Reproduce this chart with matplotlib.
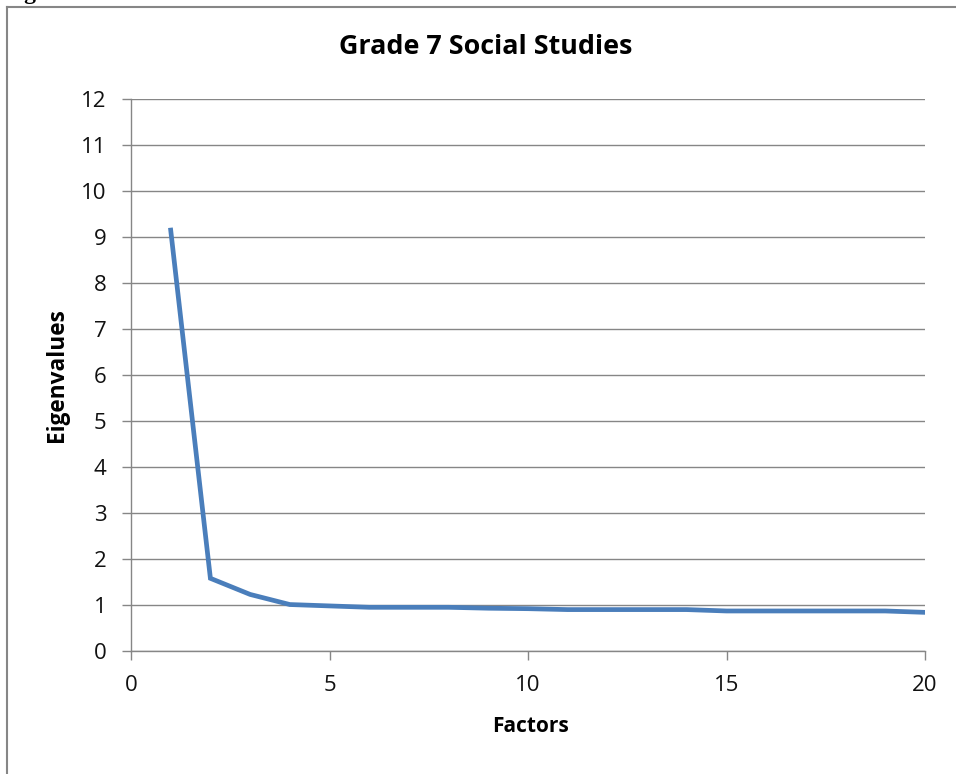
import matplotlib
matplotlib.use("Agg")
import matplotlib.pyplot as plt
from matplotlib.lines import Line2D

# scree plot values
factors = list(range(1, 21))
eigenvalues = [9.15, 1.58, 1.23, 1.01, 0.98, 0.95, 0.95, 0.95, 0.93, 0.92,
               0.90, 0.90, 0.90, 0.90, 0.87, 0.87, 0.87, 0.87, 0.87, 0.84]
x_ticks = [0, 5, 10, 15, 20]
y_ticks = list(range(0, 13))

W, H = 956, 774
fig = plt.figure(figsize=(W / 100, H / 100), dpi=100)

grey = "#868686"
font = "Open Sans"

# frame of the chart area (right/bottom edges fall outside the picture)
fig.add_artist(Line2D([7 / W, 7 / W], [0, 1 - 7 / H], color=grey, lw=1.5,
                      transform=fig.transFigure))
fig.add_artist(Line2D([7 / W, 1], [1 - 7 / H, 1 - 7 / H], color=grey, lw=1.5,
                      transform=fig.transFigure))
# caption above the frame, almost entirely cut off
fig.text(4 / W, 1 + 1 / H, "Figure", family="Liberation Serif", weight="bold",
         fontsize=17, va="baseline", ha="left")

ax = fig.add_axes([131 / W, 1 - 651 / H, (925 - 131) / W, (651 - 99) / H])

ax.plot(factors, eigenvalues, color="#4A7EBB", lw=3.4, solid_joinstyle="miter")

ax.set_xlim(0, 20)
ax.set_ylim(0, 12)
ax.set_xticks(x_ticks)
ax.set_yticks(y_ticks)
ax.grid(axis="y", color=grey, lw=1.0)
ax.set_axisbelow(True)

for side in ["top", "right"]:
    ax.spines[side].set_visible(False)
for side in ["left", "bottom"]:
    ax.spines[side].set_color(grey)
    ax.spines[side].set_linewidth(1.0)

ax.tick_params(axis="both", direction="out", length=6.5, width=1.0, color=grey,
               labelsize=16, labelcolor="#111111")
ax.tick_params(axis="y", pad=11)
ax.tick_params(axis="x", pad=11)
for lab in ax.get_xticklabels() + ax.get_yticklabels():
    lab.set_family(font)

fig.text(486 / W, 1 - 47 / H, "Grade 7 Social Studies", family=font,
         weight="bold", fontsize=19.4, ha="center", va="center")
fig.text(530 / W, 1 - 727 / H, "Factors", family=font, weight="bold",
         fontsize=15, ha="center", va="center")
fig.text(57 / W, 1 - 375 / H, "Eigenvalues", family=font, weight="bold",
         fontsize=16.3, ha="center", va="center", rotation=90)

fig.savefig("out.png", dpi=100)
